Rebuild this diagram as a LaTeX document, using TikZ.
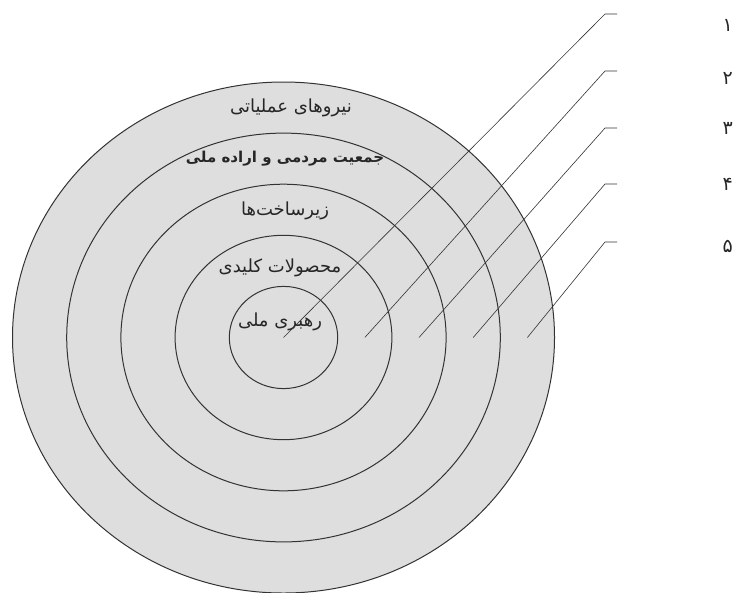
\documentclass[tikz,border=0pt]{standalone}
\usepackage{fontspec}
\newfontfamily\farsifont[Script=Arabic]{DejaVu Sans}
\TeXXeTstate=1
\usepackage{tikz}
\definecolor{ringgray}{HTML}{DEDEDE}
\definecolor{inkgray}{HTML}{333333}

\begin{document}
\begin{tikzpicture}[
x=1pt,y=-1pt,
ring/.style={draw=inkgray, line width=1pt},
lead/.style={draw=inkgray, line width=0.6pt},
label/.style={font=\farsifont\fontsize{18}{20}\selectfont, text=black!85, inner sep=1pt},
num/.style={font=\farsifont\fontsize{19}{21}\selectfont, text=black!85, inner sep=0pt}
]
\useasboundingbox (0,0) rectangle (735,592);
\coordinate (c) at (283.5,337.5);
\fill[ringgray] (c) ellipse [x radius=271, y radius=255.5];
\foreach \k in {1,...,5}
  \draw[ring] (c) ellipse [x radius=54.2*\k, y radius=51.1*\k];

\node[label] (lead1) at (280,322) {\beginR رهبری ملی\endR};
\node[label] (prod) at (280,268) {\beginR محصولات کلیدی\endR};
\node[label] (infra) at (285,211) {\beginR زیرساخت‌ها\endR};
\node[label, font=\farsifont\fontsize{15}{17}\selectfont\bfseries] (pop) at (285,159) {\beginR جمعیت مردمی و اراده ملی\endR};
\node[label] (forces) at (291,108) {\beginR نیروهای عملیاتی\endR};

\foreach \k/\px/\ty/\ny/\d in {1/283.5/14/25/۱,2/364.8/71/78/۲,3/419/128/128/۳,4/473.2/184/184/۴,5/527.4/242/246/۵}{
  \coordinate (p\k) at (\px,337.5);
  \coordinate (k\k) at (605,\ty);
  \coordinate (e\k) at (617,\ty);
  \node[num, anchor=east] (n\k) at (733,\ny) {\beginR\d\endR};
  \draw[lead] (p\k) -- (k\k) -- (e\k);
}
\end{tikzpicture}
\end{document}
